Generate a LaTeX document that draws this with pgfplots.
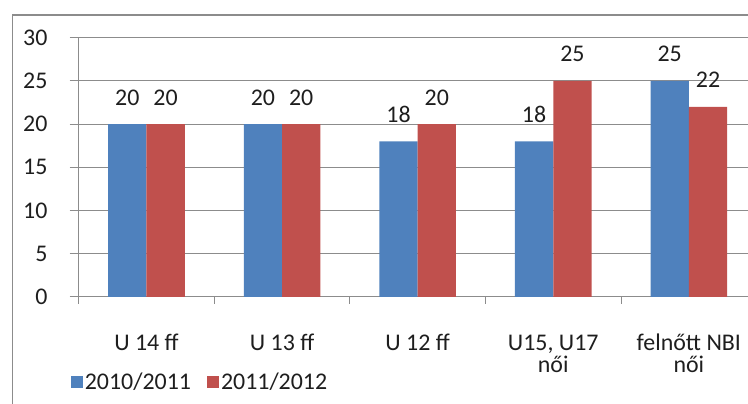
\documentclass[border=0pt]{standalone}
\usepackage{pgfplots}
\pgfplotsset{compat=1.18}
\usepackage{fontspec}
\setmainfont{Carlito}
\definecolor{cblue}{HTML}{4F81BD}
\definecolor{cred}{HTML}{C0504D}
\definecolor{cgrid}{HTML}{8C8C8C}
\definecolor{ctext}{HTML}{1E1E1E}
\newcommand{\cf}{\fontsize{24}{31}\selectfont}
\begin{document}
\begin{tikzpicture}[x=1bp,y=1bp]
\useasboundingbox (0,0) rectangle (748,403);
\clip (0,0) rectangle (748,403);
\draw[cgrid, line width=1.4bp] (12.5,-20) -- (12.5,388) -- (800,388);
\begin{axis}[
  at={(58,123)}, anchor=south west, scale only axis,
  width=678bp, height=259bp,
  xmin=0, xmax=5, ymin=0, ymax=30,
  axis x line=bottom, axis y line=left,
  axis line style={cgrid, line width=1bp, -},
  ytick={0,5,...,30}, ymajorgrids, grid style={cgrid, line width=1bp},
  xtick={0.5,1.5,2.5,3.5,4.5},
  xticklabels={U 14 ff, U 13 ff, U 12 ff, {U15, U17}, {felnőtt NBI}},
  extra x ticks={3.5,4.5},
  extra x tick labels={női, női},
  extra x tick style={major tick length=0pt, xticklabel style={yshift=-31bp}},
  minor xtick={0,1,2,3,4,5},
  major x tick style={draw=none},
  tick align=outside,
  major tick length=9bp, minor tick length=7bp,
  tick style={cgrid, line width=1bp},
  /pgf/number format/assume math mode=true,
  tick label style={font=\cf, text=ctext},
  yticklabel style={anchor=east, inner sep=0pt, xshift=-22bp},
  xticklabel style={anchor=base, inner sep=0pt, yshift=-44.5bp},
  ybar=0pt, bar width=38.3bp,
  nodes near coords,
  nodes near coords style={font=\cf, text=ctext, anchor=base, inner sep=0pt, yshift=19bp},
  legend style={at={(axis description cs:-0.0118,-0.328)}, anchor=west, draw=none, fill=none,
    inner sep=0pt, font=\cf, text=ctext, legend columns=2,
    /tikz/every even column/.append style={column sep=14bp}},
]
\addplot[fill=cblue, draw=none, legend image code/.code={\fill[cblue] (0bp,-6bp) rectangle (12bp,6bp);}]
  coordinates {(0.5,20) (1.5,20) (2.5,18) (3.5,18) (4.5,25)};
\addplot[fill=cred, draw=none, legend image code/.code={\fill[cred] (0bp,-6bp) rectangle (12bp,6bp);}]
  coordinates {(0.5,20) (1.5,20) (2.5,20) (3.5,25) (4.5,22)};
\legend{2010/2011, 2011/2012}
\end{axis}
\end{tikzpicture}
\end{document}
